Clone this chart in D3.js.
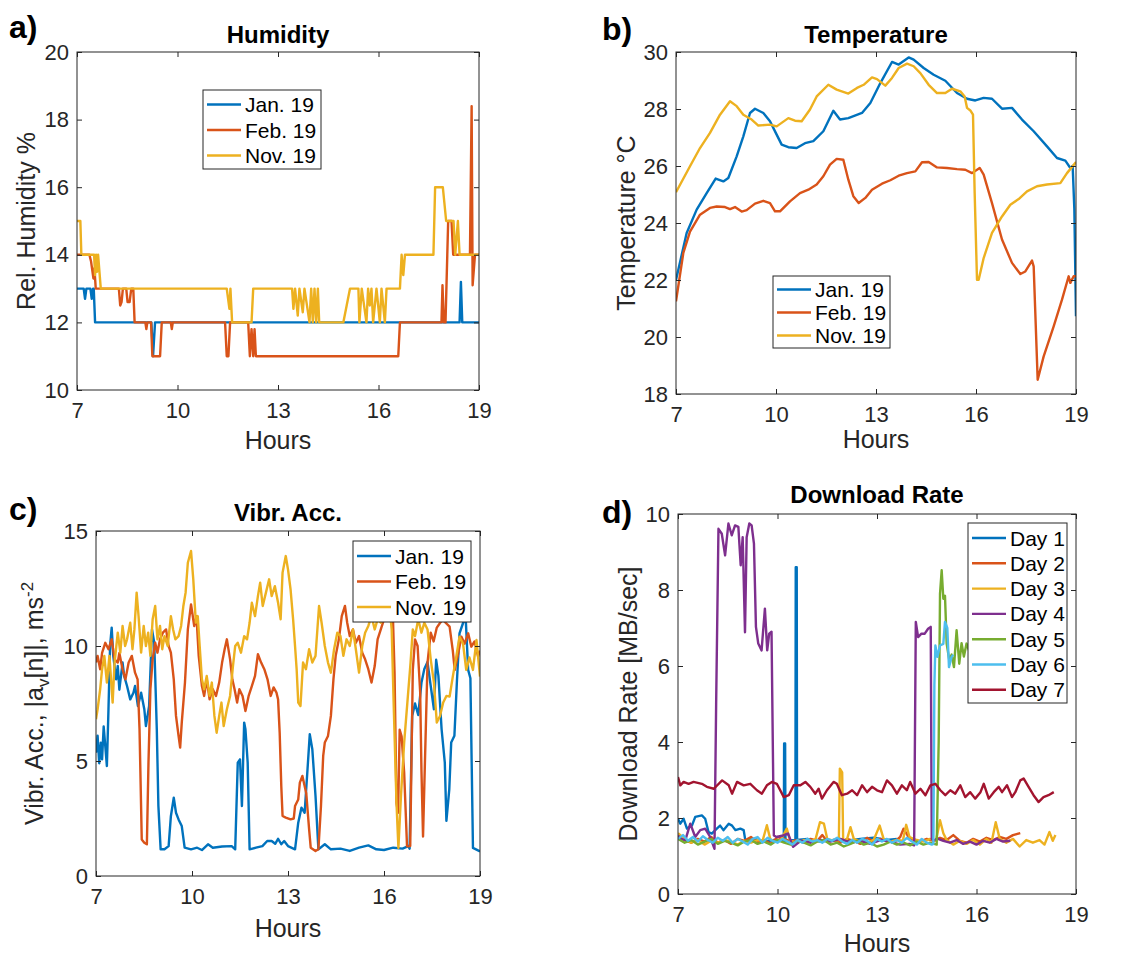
<!DOCTYPE html>
<html>
<head>
<meta charset="utf-8">
<script src="https://cdn.jsdelivr.net/npm/d3@7"></script>
<style>
body{margin:0;background:#fff;}
svg text{font-family:"Liberation Sans",Arial,sans-serif;}
</style>
</head>
<body>
<svg id="fig" width="1137" height="958"></svg>
<script>
var hourTicks = [7,10,13,16,19];
var humTicks = [10,12,14,16,18,20];
var tempTicks = [18,20,22,24,26,28,30];
var vibTicks = [0,5,10,15];
var rateTicks = [0,2,4,6,8,10];
var monthNames = ["Jan. 19","Feb. 19","Nov. 19"];
var dayNames = ["Day 1","Day 2","Day 3","Day 4","Day 5","Day 6","Day 7"];
var colors = ["#0072BD","#D95319","#EDB120","#7E2F8E","#77AC30","#4DBEEE","#A2142F"];

// a) humidity [hour, %]
var humJan = [[7,13],[7.2,13],[7.24,12.7],[7.28,13],[7.4,13],[7.44,12.7],[7.48,13],[7.5,13],[7.54,12],[9.22,12],[9.27,11],[9.33,12],[18.42,12],[18.46,13.2],[18.5,12],[19,12]];
var humFeb = [[7,14],[7.37,14],[7.42,13.8],[7.49,13.3],[7.52,13.6],[7.56,13],[8.25,13],[8.29,12.5],[8.33,12.6],[8.37,13],[8.47,13],[8.51,12.6],[8.57,12.6],[8.62,13],[8.68,13],[8.72,12],[9.04,12],[9.07,11.8],[9.1,12],[9.21,12],[9.25,11],[9.48,11],[9.53,12],[9.8,12],[9.83,11.8],[9.86,12],[11.42,12],[11.47,11],[11.52,11],[11.57,12],[12.11,12],[12.16,11],[12.21,11.8],[12.26,11],[12.3,11.8],[12.34,11],[16.59,11],[16.64,12],[17.88,12],[17.91,13.1],[17.95,12],[18.0,12],[18.08,15],[18.18,15],[18.23,14],[18.73,14],[18.78,18.4],[18.81,13.1],[18.88,14],[19,14]];
var humNov = [[7,15],[7.1,15],[7.13,14],[7.51,14],[7.54,13.4],[7.57,14],[7.6,13.5],[7.63,14],[7.71,13],[11.47,13],[11.55,12.4],[11.58,13],[11.63,12],[12.21,12],[12.26,13],[13.42,13],[13.46,12.4],[13.51,13],[13.59,12.2],[13.64,13],[13.74,12.3],[13.79,13],[13.94,12],[13.99,13],[14.04,12],[14.09,13],[14.14,12],[14.19,13],[14.23,12],[14.95,12],[15.05,12.5],[15.15,13],[15.4,13],[15.43,12],[15.5,13],[15.64,12],[15.69,13],[15.74,12.5],[15.79,13],[15.84,12],[15.94,13],[16.04,12],[16.09,13],[16.19,12],[16.24,13],[16.64,13],[16.69,14],[16.74,13.4],[16.79,14],[17.64,14],[17.69,16],[17.92,16],[18.02,15],[18.24,15],[18.29,14],[18.37,15],[18.42,14],[19,14]];

// b) temperature [hour, degC]
var tempJan = [[7.0,22.0],[7.32,23.65],[7.62,24.47],[7.92,25.05],[8.19,25.56],[8.42,25.46],[8.57,25.58],[8.82,26.34],[9.02,27.04],[9.22,27.86],[9.37,28.01],[9.62,27.86],[9.82,27.57],[10.02,27.1],[10.17,26.75],[10.37,26.66],[10.62,26.63],[10.87,26.8],[11.12,26.87],[11.42,27.22],[11.72,27.94],[11.92,27.63],[12.17,27.68],[12.58,27.86],[12.83,28.21],[13.13,28.91],[13.48,29.65],[13.68,29.56],[13.98,29.81],[14.13,29.73],[14.43,29.44],[14.73,29.2],[15.08,28.99],[15.43,28.56],[15.73,28.36],[15.98,28.3],[16.23,28.39],[16.48,28.36],[16.78,28.01],[17.08,28.04],[17.38,27.63],[17.73,27.22],[18.13,26.69],[18.43,26.28],[18.68,26.19],[18.83,25.93],[18.9,26.0],[18.95,24.5],[19.0,20.73]];
var tempFeb = [[7.0,21.25],[7.22,22.95],[7.42,23.7],[7.72,24.29],[8.02,24.53],[8.22,24.58],[8.47,24.56],[8.62,24.49],[8.77,24.56],[8.97,24.4],[9.12,24.45],[9.37,24.68],[9.62,24.78],[9.82,24.7],[9.97,24.41],[10.12,24.41],[10.42,24.76],[10.72,25.05],[10.97,25.17],[11.22,25.35],[11.42,25.64],[11.62,26.05],[11.82,26.25],[12.02,26.22],[12.17,25.52],[12.32,24.94],[12.48,24.7],[12.68,24.88],[12.88,25.17],[13.18,25.38],[13.43,25.5],[13.68,25.66],[13.93,25.75],[14.18,25.81],[14.38,26.13],[14.58,26.14],[14.83,25.95],[15.13,25.93],[15.43,25.89],[15.68,25.87],[15.88,25.75],[16.11,25.93],[16.23,25.7],[16.48,24.7],[16.78,23.42],[17.08,22.6],[17.33,22.21],[17.48,22.3],[17.68,22.68],[17.73,22.48],[17.85,18.5],[18.03,19.32],[18.33,20.37],[18.58,21.31],[18.78,22.13],[18.83,21.9],[18.93,22.13],[19.0,22.13]];
var tempNov = [[7.0,25.08],[7.42,25.99],[7.72,26.63],[8.02,27.16],[8.32,27.8],[8.62,28.27],[8.82,28.1],[9.02,27.8],[9.27,27.63],[9.47,27.42],[9.82,27.45],[10.02,27.39],[10.37,27.68],[10.57,27.59],[10.77,27.57],[11.02,27.98],[11.22,28.44],[11.57,28.85],[11.82,28.68],[12.17,28.54],[12.43,28.74],[12.63,28.85],[12.88,29.11],[13.03,29.05],[13.28,28.82],[13.48,29.09],[13.68,29.44],[13.93,29.59],[14.13,29.5],[14.33,29.26],[14.58,28.85],[14.83,28.56],[15.08,28.56],[15.28,28.71],[15.53,28.62],[15.66,28.44],[15.73,28.04],[15.83,27.95],[15.91,27.8],[15.96,25.05],[16.03,22.01],[16.08,22.01],[16.23,22.77],[16.48,23.65],[16.78,24.23],[17.03,24.64],[17.28,24.84],[17.53,25.11],[17.83,25.29],[18.13,25.35],[18.53,25.4],[18.73,25.75],[19.0,26.14]];

// c) vibration acceleration [hour, m/s^2]
var vibJan = [[7.0,5.36],[7.05,6.1],[7.1,4.9],[7.15,5.8],[7.19,5.07],[7.24,6.5],[7.29,5.65],[7.34,4.78],[7.39,7.25],[7.44,10.0],[7.49,10.8],[7.54,9.57],[7.63,8.55],[7.68,9.13],[7.73,8.1],[7.83,9.28],[7.88,8.7],[7.97,8.26],[8.07,7.68],[8.17,7.97],[8.22,8.26],[8.31,7.39],[8.41,7.97],[8.51,7.25],[8.56,6.52],[8.66,7.39],[8.75,10.72],[8.82,10.14],[8.9,6.38],[8.95,3.04],[9.02,1.16],[9.14,1.16],[9.27,1.3],[9.34,2.6],[9.43,3.4],[9.5,2.75],[9.58,2.46],[9.68,2.17],[9.77,1.23],[9.97,1.16],[10.16,1.23],[10.31,1.13],[10.5,1.38],[10.65,1.23],[10.94,1.28],[11.24,1.3],[11.35,1.16],[11.43,4.93],[11.5,5.07],[11.56,3.04],[11.63,6.67],[11.67,6.38],[11.74,4.93],[11.8,1.16],[12.0,1.23],[12.2,1.3],[12.35,1.52],[12.49,1.52],[12.6,1.4],[12.69,1.62],[12.79,1.38],[12.88,1.52],[13.0,1.3],[13.22,1.16],[13.32,2.32],[13.42,2.97],[13.52,2.75],[13.61,4.64],[13.68,6.16],[13.76,5.51],[13.86,3.48],[13.95,1.16],[14.15,1.38],[14.34,1.16],[14.64,1.19],[14.93,1.09],[15.22,1.23],[15.51,1.33],[15.76,1.16],[16.0,1.13],[16.29,1.23],[16.58,1.19],[16.76,1.3],[16.8,1.19],[16.88,6.96],[16.97,7.5],[17.07,7.0],[17.17,8.4],[17.26,9.0],[17.36,9.3],[17.46,8.26],[17.56,7.25],[17.63,9.4],[17.7,8.7],[17.8,6.38],[17.9,4.93],[17.95,2.4],[18.04,3.77],[18.1,5.8],[18.2,6.1],[18.28,8.5],[18.36,10.55],[18.47,11.0],[18.55,11.3],[18.63,8.96],[18.7,8.6],[18.78,1.22],[19.0,1.07]];
var vibFeb = [[7.0,9.28],[7.05,9.57],[7.13,8.99],[7.19,9.7],[7.29,10.14],[7.39,9.86],[7.49,10.29],[7.58,9.42],[7.68,9.28],[7.73,9.7],[7.83,8.99],[7.92,8.55],[8.02,9.28],[8.12,9.57],[8.22,8.84],[8.3,8.55],[8.36,6.38],[8.43,1.59],[8.51,1.45],[8.59,1.38],[8.64,4.93],[8.7,8.12],[8.77,9.42],[8.85,10.14],[8.92,9.71],[9.0,10.29],[9.09,10.58],[9.19,10.72],[9.27,10.0],[9.34,9.71],[9.43,8.55],[9.5,6.96],[9.58,6.09],[9.63,5.58],[9.68,6.67],[9.78,8.41],[9.87,10.72],[9.97,11.81],[10.07,10.87],[10.14,11.3],[10.21,9.57],[10.31,8.26],[10.38,7.83],[10.46,8.55],[10.55,7.68],[10.65,8.12],[10.75,7.83],[10.85,8.41],[10.94,9.28],[11.02,9.86],[11.09,10.29],[11.19,9.42],[11.26,8.55],[11.33,8.12],[11.41,7.54],[11.48,8.12],[11.58,7.83],[11.67,7.17],[11.77,7.83],[11.87,8.26],[11.97,8.7],[12.06,9.64],[12.16,9.28],[12.26,8.99],[12.36,8.55],[12.46,7.83],[12.55,8.2],[12.64,7.97],[12.69,7.68],[12.74,6.23],[12.79,3.91],[12.83,2.61],[12.93,2.54],[13.08,2.46],[13.18,2.5],[13.22,3.04],[13.32,3.33],[13.37,4.06],[13.45,4.35],[13.52,3.91],[13.57,3.6],[13.66,2.03],[13.71,1.23],[13.86,1.09],[13.95,1.16],[14.03,3.04],[14.1,5.22],[14.15,5.8],[14.25,6.09],[14.34,6.96],[14.42,8.55],[14.49,9.57],[14.59,10.29],[14.68,11.3],[14.78,11.74],[14.85,11.01],[14.93,10.43],[15.03,10.72],[15.12,10.14],[15.22,10.43],[15.32,9.71],[15.41,9.42],[15.51,8.99],[15.61,8.41],[15.71,9.13],[15.8,10.29],[15.9,10.72],[16.0,11.16],[16.15,11.5],[16.28,11.2],[16.33,8.82],[16.39,3.17],[16.44,2.75],[16.49,6.36],[16.55,6.07],[16.63,4.5],[16.72,1.29],[16.82,1.3],[16.9,8.96],[16.97,10.29],[17.05,10.0],[17.13,8.0],[17.17,4.62],[17.22,1.72],[17.28,5.0],[17.36,9.28],[17.46,10.58],[17.55,10.2],[17.65,10.8],[17.75,11.0],[17.84,11.13],[18.05,10.84],[18.15,9.8],[18.21,8.96],[18.3,9.54],[18.42,10.4],[18.52,10.1],[18.63,10.55],[18.73,9.97],[18.83,10.2],[18.94,9.54],[19.0,9.8]];
var vibNov = [[7.0,6.81],[7.05,7.25],[7.13,8.12],[7.19,8.99],[7.26,9.57],[7.34,8.41],[7.42,9.57],[7.52,7.54],[7.58,9.28],[7.68,10.58],[7.76,9.71],[7.83,10.87],[7.91,10.0],[7.97,10.29],[8.07,11.01],[8.14,9.86],[8.2,10.72],[8.27,12.32],[8.33,11.3],[8.41,9.71],[8.49,10.87],[8.56,10.0],[8.63,10.58],[8.7,9.57],[8.77,11.16],[8.85,11.74],[8.92,10.29],[9.0,10.87],[9.07,9.86],[9.14,10.43],[9.24,10.0],[9.34,11.3],[9.41,10.72],[9.48,10.29],[9.58,10.43],[9.66,10.87],[9.73,11.74],[9.8,12.32],[9.87,13.62],[9.97,14.13],[10.04,12.9],[10.12,11.01],[10.18,11.3],[10.24,10.0],[10.31,8.55],[10.38,8.12],[10.46,8.7],[10.55,7.83],[10.62,8.41],[10.7,6.96],[10.77,6.23],[10.85,6.96],[10.92,7.54],[10.99,6.52],[11.09,7.25],[11.19,7.83],[11.28,9.13],[11.35,10.0],[11.43,10.14],[11.53,9.71],[11.63,10.43],[11.72,10.29],[11.8,11.01],[11.87,11.88],[11.97,11.3],[12.06,12.17],[12.13,12.75],[12.21,11.74],[12.31,12.32],[12.41,12.9],[12.49,12.17],[12.59,12.6],[12.69,11.88],[12.77,11.16],[12.83,13.19],[12.93,13.91],[13.0,13.33],[13.08,12.46],[13.16,11.16],[13.22,10.0],[13.27,8.99],[13.32,7.54],[13.39,7.39],[13.47,9.28],[13.56,8.99],[13.66,9.86],[13.76,9.28],[13.86,9.57],[13.97,11.74],[14.05,11.01],[14.15,10.0],[14.25,9.28],[14.34,8.84],[14.44,9.86],[14.54,10.58],[14.64,10.43],[14.73,9.57],[14.83,10.29],[14.93,10.0],[15.03,10.72],[15.12,9.86],[15.22,8.84],[15.32,10.0],[15.41,10.58],[15.51,10.87],[15.61,11.3],[15.71,10.72],[15.8,11.16],[15.9,11.01],[16.05,11.4],[16.2,11.3],[16.24,10.72],[16.31,7.1],[16.39,3.19],[16.45,1.22],[16.53,3.48],[16.63,5.8],[16.73,7.54],[16.83,9.28],[16.9,10.72],[16.97,10.43],[17.07,11.16],[17.17,10.58],[17.26,11.01],[17.36,10.72],[17.46,9.42],[17.56,8.41],[17.65,6.67],[17.75,6.96],[17.85,7.54],[17.95,7.83],[18.05,7.8],[18.15,8.67],[18.26,9.54],[18.36,10.4],[18.47,10.1],[18.57,8.96],[18.67,9.5],[18.78,8.96],[18.89,10.26],[19.0,8.67]];

// d) download rate [hour, MB/sec]
var day1 = [[7.0,1.98],[7.07,1.85],[7.17,1.98],[7.27,1.72],[7.42,1.8],[7.52,2.03],[7.72,2.07],[7.82,1.98],[7.92,1.63],[8.02,1.59],[8.17,1.72],[8.27,1.8],[8.37,1.68],[8.53,1.85],[8.63,1.8],[8.73,1.68],[8.88,1.72],[8.98,1.68],[9.03,1.41],[9.3,1.45],[9.6,1.38],[9.9,1.42],[10.19,1.4],[10.2,3.96],[10.23,3.96],[10.24,1.4],[10.54,1.42],[10.55,8.6],[10.58,8.6],[10.59,1.42],[10.9,1.45],[11.3,1.38],[11.7,1.42],[12.1,1.4],[12.5,1.45],[12.9,1.48],[13.3,1.42],[13.6,1.45]];
var day2 = [[7.0,1.5],[7.2,1.42],[7.4,1.35],[7.6,1.45],[7.8,1.38],[8.0,1.5],[8.2,1.35],[8.4,1.42],[8.6,1.32],[8.8,1.45],[9.0,1.4],[9.2,1.5],[9.4,1.35],[9.6,1.42],[9.8,1.32],[10.0,1.5],[10.2,1.45],[10.4,1.38],[10.6,1.42],[10.8,1.35],[11.0,1.45],[11.2,1.4],[11.35,1.55],[11.5,1.38],[11.7,1.42],[11.9,1.35],[12.1,1.45],[12.3,1.4],[12.5,1.32],[12.7,1.48],[12.9,1.38],[13.1,1.45],[13.3,1.4],[13.5,1.35],[13.7,1.5],[13.8,1.72],[13.95,1.5],[14.1,1.42],[14.3,1.38],[14.5,1.45],[14.7,1.4],[14.9,1.48],[15.1,1.42],[15.3,1.55],[15.5,1.4],[15.7,1.35],[15.9,1.45],[16.1,1.38],[16.3,1.48],[16.5,1.42],[16.7,1.5],[16.9,1.45],[17.1,1.55],[17.32,1.6]];
var day3 = [[7.0,1.6],[7.2,1.45],[7.4,1.35],[7.6,1.42],[7.8,1.3],[8.0,1.4],[8.2,1.35],[8.4,1.42],[8.6,1.38],[8.8,1.3],[9.0,1.4],[9.2,1.35],[9.4,1.42],[9.55,1.4],[9.68,1.81],[9.78,1.45],[9.9,1.38],[10.1,1.42],[10.28,1.72],[10.38,1.4],[10.6,1.35],[10.8,1.42],[11.0,1.38],[11.15,1.45],[11.28,1.89],[11.4,1.85],[11.5,1.45],[11.7,1.4],[11.85,1.42],[11.88,3.3],[11.95,3.2],[11.98,1.4],[12.1,1.45],[12.2,1.76],[12.3,1.45],[12.5,1.38],[12.7,1.35],[12.9,1.42],[13.08,1.8],[13.2,1.45],[13.4,1.38],[13.6,1.42],[13.78,1.4],[13.88,1.82],[13.98,1.5],[14.2,1.42],[14.4,1.38],[14.6,1.45],[14.78,1.4],[14.9,1.94],[15.0,1.6],[15.1,1.42],[15.3,1.3],[15.5,1.4],[15.7,1.32],[15.9,1.42],[16.1,1.3],[16.3,1.45],[16.45,1.35],[16.58,1.89],[16.7,1.45],[16.9,1.35],[17.1,1.45],[17.3,1.25],[17.5,1.42],[17.7,1.35],[17.9,1.42],[18.05,1.3],[18.2,1.63],[18.3,1.4],[18.38,1.55]];
var day4 = [[7.0,1.54],[7.1,1.45],[7.22,1.41],[7.37,1.85],[7.52,1.5],[7.67,1.68],[7.82,1.72],[7.97,1.5],[8.1,1.19],[8.15,5.0],[8.22,9.61],[8.32,9.48],[8.42,8.91],[8.52,9.75],[8.62,9.44],[8.72,9.7],[8.82,9.66],[8.89,8.65],[8.95,9.39],[9.02,6.89],[9.07,9.39],[9.15,9.75],[9.22,9.7],[9.29,9.22],[9.35,7.03],[9.42,6.59],[9.52,6.41],[9.62,7.51],[9.69,6.41],[9.75,6.85],[9.82,6.9],[9.89,1.54],[9.97,1.5],[10.17,1.54],[10.32,1.59],[10.47,1.24],[10.7,1.4],[11.0,1.35],[11.3,1.42],[11.6,1.38],[11.9,1.45],[12.2,1.35],[12.5,1.4],[12.8,1.32],[13.1,1.42],[13.4,1.38],[13.7,1.3],[13.98,1.32],[14.12,1.28],[14.17,7.16],[14.24,6.76],[14.34,6.85],[14.44,6.85],[14.54,6.98],[14.62,7.03],[14.65,1.45],[14.7,1.4],[14.82,1.46],[15.0,1.4],[15.2,1.35],[15.4,1.42],[15.6,1.32],[15.8,1.38],[16.0,1.3],[16.2,1.4],[16.4,1.35],[16.6,1.45],[16.8,1.38],[17.02,1.4]];
var day5 = [[7.0,1.45],[7.2,1.35],[7.4,1.42],[7.6,1.3],[7.8,1.38],[8.0,1.45],[8.2,1.32],[8.4,1.4],[8.6,1.35],[8.8,1.28],[9.0,1.38],[9.2,1.42],[9.4,1.32],[9.6,1.38],[9.8,1.3],[10.0,1.42],[10.2,1.35],[10.4,1.3],[10.6,1.4],[10.8,1.35],[11.0,1.28],[11.2,1.38],[11.4,1.42],[11.6,1.3],[11.8,1.35],[12.0,1.25],[12.2,1.32],[12.4,1.4],[12.6,1.3],[12.8,1.35],[13.0,1.25],[13.2,1.3],[13.4,1.38],[13.6,1.3],[13.8,1.35],[14.0,1.28],[14.2,1.38],[14.4,1.3],[14.6,1.35],[14.8,1.3],[14.86,4.0],[14.9,7.9],[14.95,8.52],[15.0,7.77],[15.05,7.85],[15.1,6.59],[15.18,6.15],[15.25,6.3],[15.32,5.97],[15.4,6.94],[15.48,6.06],[15.55,6.6],[15.62,6.25],[15.7,6.59],[15.78,6.4],[15.85,6.6]];
var day6 = [[7.0,1.45],[7.15,1.55],[7.3,1.4],[7.45,1.5],[7.6,1.38],[7.75,1.52],[7.9,1.42],[8.05,1.35],[8.2,1.48],[8.35,1.4],[8.5,1.5],[8.65,1.35],[8.8,1.45],[8.95,1.38],[9.1,1.3],[9.25,1.45],[9.4,1.5],[9.55,1.35],[9.7,1.48],[9.85,1.4],[10.0,1.35],[10.15,1.45],[10.3,1.38],[10.45,1.3],[10.6,1.42],[10.75,1.35],[10.9,1.45],[11.05,1.38],[11.2,1.42],[11.35,1.35],[11.5,1.45],[11.65,1.4],[11.8,1.48],[11.95,1.38],[12.1,1.32],[12.25,1.42],[12.4,1.35],[12.55,1.45],[12.7,1.4],[12.85,1.3],[13.0,1.45],[13.15,1.38],[13.3,1.45],[13.45,1.35],[13.6,1.42],[13.75,1.35],[13.9,1.48],[14.05,1.38],[14.2,1.3],[14.35,1.45],[14.5,1.35],[14.65,1.3],[14.7,1.32],[14.73,5.5],[14.76,6.54],[14.82,6.24],[14.9,6.54],[15.0,6.58],[15.05,7.16],[15.12,7.0],[15.17,5.97],[15.25,6.24],[15.3,6.3]];
var day7 = [[7.0,3.08],[7.07,2.86],[7.17,2.95],[7.32,2.9],[7.47,2.95],[7.72,2.9],[7.87,2.82],[8.08,2.77],[8.33,2.99],[8.53,2.86],[8.63,2.64],[8.78,2.95],[8.98,2.86],[9.18,2.9],[9.38,2.73],[9.53,2.64],[9.68,2.86],[9.83,2.95],[9.98,2.9],[10.19,2.55],[10.34,2.6],[10.49,2.86],[10.69,2.86],[10.84,2.95],[10.99,2.82],[11.14,2.64],[11.24,2.77],[11.34,2.51],[11.49,2.73],[11.69,2.95],[11.79,2.9],[11.94,2.6],[12.1,2.64],[12.25,2.73],[12.4,2.6],[12.55,2.86],[12.7,2.68],[12.85,2.82],[13.0,2.73],[13.15,2.68],[13.3,2.99],[13.45,2.86],[13.6,2.64],[13.75,2.86],[13.9,2.73],[14.0,2.95],[14.16,2.64],[14.31,2.77],[14.46,2.6],[14.61,2.86],[14.76,2.9],[14.91,2.73],[15.06,2.6],[15.21,2.73],[15.36,2.64],[15.51,2.86],[15.66,2.55],[15.81,2.68],[15.96,2.51],[16.12,2.68],[16.22,2.9],[16.37,2.51],[16.52,2.68],[16.67,2.82],[16.77,2.68],[16.92,2.86],[17.07,2.55],[17.17,2.68],[17.32,2.99],[17.42,3.04],[17.57,2.82],[17.72,2.6],[17.87,2.42],[18.02,2.55],[18.17,2.6],[18.33,2.68]];

var svg = d3.select("#fig");
var ink = "#262626";
var lw = 2.4;

function drawPanel(p){
	var x = d3.scaleLinear().domain([7,19]).range([p.left,p.right]);
	var y = d3.scaleLinear().domain([p.yTicks[0], p.yTicks[p.yTicks.length-1]]).range([p.bottom,p.top]);
	var g = svg.append("g");

	g.append("clipPath").attr("id","clip-"+p.id)
	 .append("rect")
	 .attr("x",p.left).attr("y",p.top)
	 .attr("width",p.right-p.left).attr("height",p.bottom-p.top);

	var line = d3.line()
	             .x(function(d){ return x(d[0]); })
	             .y(function(d){ return y(d[1]); });

	var plot = g.append("g").attr("clip-path","url(#clip-"+p.id+")");
	p.series.forEach(function(s){
		plot.append("path")
		    .attr("d",line(s.data))
		    .attr("fill","none")
		    .attr("stroke",s.color)
		    .attr("stroke-width",lw)
		    .attr("stroke-linejoin","round");
	});

	// MATLAB style box: ticks inside on every side, labels only bottom/left
	var ax = [
		g.append("g").attr("transform","translate(0,"+p.bottom+")")
		 .call(d3.axisBottom(x).tickValues(hourTicks).tickSizeInner(-5).tickSizeOuter(0).tickPadding(12)),
		g.append("g").attr("transform","translate(0,"+p.top+")")
		 .call(d3.axisTop(x).tickValues(hourTicks).tickSizeInner(-5).tickSizeOuter(0).tickFormat("")),
		g.append("g").attr("transform","translate("+p.left+",0)")
		 .call(d3.axisLeft(y).tickValues(p.yTicks).tickSizeInner(-5).tickSizeOuter(0).tickPadding(8)),
		g.append("g").attr("transform","translate("+p.right+",0)")
		 .call(d3.axisRight(y).tickValues(p.yTicks).tickSizeInner(-5).tickSizeOuter(0).tickFormat(""))
	];
	ax.forEach(function(a){
		a.attr("color",ink);
		a.select(".domain").remove();
		a.selectAll("text").attr("font-size",22).attr("fill",ink);
	});

	g.append("rect")
	 .attr("x",p.left).attr("y",p.top)
	 .attr("width",p.right-p.left).attr("height",p.bottom-p.top)
	 .attr("fill","none").attr("stroke",ink).attr("stroke-width",1);

	g.append("text").attr("x",(p.left+p.right)/2).attr("y",p.titleY)
	 .attr("text-anchor","middle").attr("font-size",24).attr("font-weight","bold").attr("fill","#000")
	 .text(p.title);

	g.append("text").attr("x",p.letterX).attr("y",p.letterY)
	 .attr("font-size",32).attr("font-weight","bold").attr("fill","#000")
	 .text(p.id + ")");

	g.append("text").attr("x",(p.left+p.right)/2).attr("y",p.xlabelY)
	 .attr("text-anchor","middle").attr("font-size",25).attr("fill",ink)
	 .text("Hours");

	var yl = g.append("text")
	          .attr("transform","translate("+p.ylabelX+","+((p.top+p.bottom)/2)+") rotate(-90)")
	          .attr("text-anchor","middle").attr("font-size",25).attr("fill",ink);
	p.ylabel(yl);

	var L = p.legend;
	var lg = g.append("g");
	lg.append("rect").attr("x",L.x).attr("y",L.y).attr("width",L.w).attr("height",L.h)
	  .attr("fill","#fff").attr("stroke",ink).attr("stroke-width",1);
	p.series.forEach(function(s,i){
		var cy = L.row0 + i*L.step;
		lg.append("line").attr("x1",L.x+4).attr("x2",L.x+38).attr("y1",cy).attr("y2",cy)
		  .attr("stroke",s.color).attr("stroke-width",lw);
		lg.append("text").attr("x",L.x+42).attr("y",cy).attr("dy","0.36em")
		  .attr("font-size",21).attr("fill","#000").text(s.name);
	});
}

function monthSeries(a,b,c){
	return [a,b,c].map(function(d,i){ return {name:monthNames[i], data:d, color:colors[i]}; });
}

drawPanel({
	id:"a", left:77, right:479, top:52, bottom:390, yTicks:humTicks,
	series:monthSeries(humJan,humFeb,humNov),
	title:"Humidity", titleY:43, letterX:9, letterY:38, xlabelY:449, ylabelX:35,
	ylabel:function(t){ t.text("Rel. Humidity %"); },
	legend:{x:203, y:90, w:118, h:79, row0:104.5, step:25.5}
});

drawPanel({
	id:"b", left:676, right:1076, top:52, bottom:394, yTicks:tempTicks,
	series:monthSeries(tempJan,tempFeb,tempNov),
	title:"Temperature", titleY:43, letterX:602, letterY:40, xlabelY:448, ylabelX:635,
	ylabel:function(t){ t.text("Temperature °C"); },
	legend:{x:773, y:276, w:117, h:72, row0:289.5, step:23}
});

drawPanel({
	id:"c", left:96, right:480, top:531, bottom:876, yTicks:vibTicks,
	series:monthSeries(vibJan,vibFeb,vibNov),
	title:"Vibr. Acc.", titleY:521, letterX:9, letterY:520, xlabelY:937, ylabelX:43,
	ylabel:function(t){
		t.append("tspan").text("Vibr. Acc., |a");
		t.append("tspan").attr("font-size",17).attr("dy",6).text("v");
		t.append("tspan").attr("dy",-6).text("[n]|, ms");
		t.append("tspan").attr("font-size",17).attr("dy",-10).text("-2");
	},
	legend:{x:353, y:541, w:118, h:81, row0:556, step:25.5}
});

drawPanel({
	id:"d", left:678, right:1076, top:514, bottom:894, yTicks:rateTicks,
	series:[day1,day2,day3,day4,day5,day6,day7].map(function(d,i){ return {name:dayNames[i], data:d, color:colors[i]}; }),
	title:"Download Rate", titleY:503, letterX:602, letterY:523, xlabelY:952, ylabelX:637,
	ylabel:function(t){ t.text("Download Rate [MB/sec]"); },
	legend:{x:968, y:523, w:99, h:180, row0:538, step:25.3}
});
</script>
</body>
</html>
